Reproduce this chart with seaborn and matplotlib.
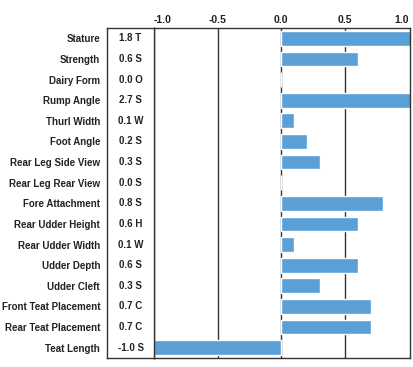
import matplotlib
matplotlib.use("Agg")
import matplotlib.pyplot as plt
import seaborn as sns
import numpy as np
import pandas as pd

traits = ["Stature", "Strength", "Dairy Form", "Rump Angle", "Thurl Width",
          "Foot Angle", "Rear Leg Side View", "Rear Leg Rear View",
          "Fore Attachment", "Rear Udder Height", "Rear Udder Width",
          "Udder Depth", "Udder Cleft", "Front Teat Placement",
          "Rear Teat Placement", "Teat Length"]
values = [1.8, 0.6, 0.0, 2.7, 0.1, 0.2, 0.3, 0.0, 0.8, 0.6, 0.1, 0.6, 0.3, 0.7, 0.7, -1.0]
letters = ["T", "S", "O", "S", "W", "S", "S", "S", "S", "H", "W", "S", "S", "C", "C", "S"]
xticks = [-1.0, -0.5, 0.0, 0.5, 1.0]

sns.set_theme(style="white")
plt.rcParams["font.family"] = ["Liberation Sans", "DejaVu Sans"]

df = pd.DataFrame({"trait": traits, "value": values})

fig = plt.figure(figsize=(4.13, 3.67), dpi=100)
W, H = 413, 367
top, bot = 28, 358
ax = fig.add_axes([154 / W, 1 - bot / H, (410 - 154) / W, (bot - top) / H])
axv = fig.add_axes([107 / W, 1 - bot / H, (154 - 107) / W, (bot - top) / H])

bar_color = "#5A9FD6"
sns.barplot(data=df, y="trait", x="value", orient="h", color=bar_color,
            width=0.72, ax=ax, saturation=1, order=traits)
ax.set_xlim(-1.0, 1.01)
ax.set_ylim(len(traits) - 0.5, -0.5)
ax.set_xlabel("")
ax.set_ylabel("")
ax.set_yticks([])
ax.xaxis.tick_top()
ax.set_xticks(xticks)
ax.set_xticklabels([f"{t:.1f}" for t in xticks], fontsize=7.5, fontweight="bold",
                   color="#222222")
labs = ax.get_xticklabels()
labs[0].set_horizontalalignment("left")
labs[-1].set_horizontalalignment("right")
ax.tick_params(axis="x", length=0, pad=2)
for xv in [-0.5, 0.0, 0.5]:
    ax.axvline(xv, color="#333333", lw=1.0, zorder=0)
for s in ax.spines.values():
    s.set_color("#333333")
    s.set_linewidth(1.0)

# value column box
axv.set_xlim(0, 1)
axv.set_ylim(len(traits) - 0.5, -0.5)
axv.set_xticks([])
axv.set_yticks(range(len(traits)))
axv.set_yticklabels(traits, fontsize=7, fontweight="bold", color="#222222")
axv.tick_params(axis="y", length=0, pad=5)
for i, (v, l) in enumerate(zip(values, letters)):
    axv.text(0.5, i, f"{v:.1f} {l}", ha="center", va="center", fontsize=7,
             fontweight="bold", color="#222222")
for s in axv.spines.values():
    s.set_color("#333333")
    s.set_linewidth(1.0)

fig.savefig("out.png", dpi=100)
